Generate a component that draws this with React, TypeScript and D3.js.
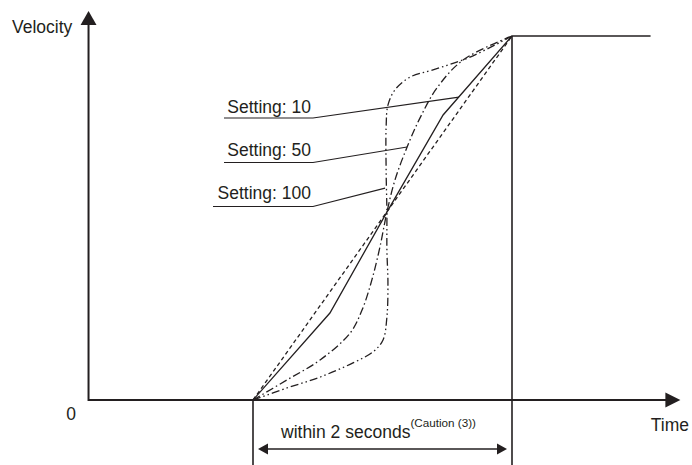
import React from 'react';
import * as d3 from 'd3';

// time in seconds (ramp starts at 0, ends at 2), velocity normalized 0..1
const rampTimes = [0, 2];
const plateauEndTime = 3.07;
const timeAxisExtent = [-1.27, 3.3];
const velocityTop = 1;

const straightSeries: [number, number][] = [[0, 0], [2, 1]];
const setting10Series: [number, number][] = [[0, 0], [0.594, 0.239], [1.034, 0.516], [1.468, 0.783], [2, 1]];
const setting50Series: [number, number][] = [
  [0, 0], [0.262, 0.055], [0.518, 0.11], [0.75, 0.184], [0.842, 0.247], [0.918, 0.33], [0.98, 0.42],
  [1.034, 0.516], [1.096, 0.604], [1.19, 0.695], [1.29, 0.775], [1.42, 0.857], [1.622, 0.934], [2, 1],
];
const setting100Series: [number, number][] = [
  [0, 0], [0.262, 0.033], [0.518, 0.063], [0.772, 0.102], [0.926, 0.132], [1.004, 0.165], [1.034, 0.228],
  [1.042, 0.321], [1.034, 0.412], [1.034, 0.516], [1.028, 0.632], [1.028, 0.75], [1.042, 0.81],
  [1.096, 0.852], [1.212, 0.887], [1.39, 0.907], [1.676, 0.942], [2, 1],
];

const labelTexts = ['Setting: 10', 'Setting: 50', 'Setting: 100'];
const labelTargets: [number, number][] = [[1.59, 0.832], [1.19, 0.695], [1.02, 0.582]];

const axisLabels = { y: 'Velocity', x: 'Time', origin: '0' };
const durationText = 'within 2 seconds';
const durationNote = '(Caution (3))';

const INK = '#231f20';
const FONT = 'Arial, "Liberation Sans", Helvetica, sans-serif';

export default function App() {
  const x = d3.scaleLinear().domain(rampTimes).range([253, 512]);
  const y = d3.scaleLinear().domain([0, velocityTop]).range([400, 36]);

  const x0 = x(timeAxisExtent[0]);
  const x1 = x(timeAxisExtent[1]);
  const y0 = y(0);
  const yTop = 11;

  const linear = d3.line<[number, number]>().x(d => x(d[0])).y(d => y(d[1])).curve(d3.curveLinear);
  const smooth = d3.line<[number, number]>().x(d => x(d[0])).y(d => y(d[1])).curve(d3.curveCatmullRom.alpha(0.5));

  const labelBaselines = [112.5, 155.5, 199];
  const underlineYs = [118, 162.5, 206.5];
  const underlineStarts = [224, 224, 213];
  const underlineEnd = 313;

  const xs = x(rampTimes[0]);
  const xe = x(rampTimes[1]);
  const arrowY = 449;

  return (
    <svg width={692} height={465} style={{ position: 'absolute', left: 0, top: 0, background: '#fff' }}
      fontFamily={FONT}>
      <rect width={692} height={465} fill="#fff" />
      {/* axes */}
      <line x1={x0} y1={y0} x2={x1 - 12} y2={y0} stroke={INK} strokeWidth={2} />
      <path d={`M${x1},${y0} L${x1 - 15},${y0 - 7.5} L${x1 - 15},${y0 + 7.5} Z`} fill={INK} />
      <line x1={x0} y1={y0 + 1} x2={x0} y2={yTop + 12} stroke={INK} strokeWidth={2} />
      <path d={`M${x0},${yTop} L${x0 - 8},${yTop + 14} L${x0 + 8},${yTop + 14} Z`} fill={INK} />

      {/* vertical guides and plateau */}
      <line x1={xs} y1={y0} x2={xs} y2={465} stroke={INK} strokeWidth={1.6} />
      <line x1={xe} y1={y(velocityTop)} x2={xe} y2={465} stroke={INK} strokeWidth={1.6} />
      <line x1={xe} y1={y(velocityTop)} x2={x(plateauEndTime)} y2={y(velocityTop)} stroke={INK} strokeWidth={1.6} />

      {/* curves */}
      <path d={linear(straightSeries) || ''} fill="none" stroke={INK} strokeWidth={1.3} strokeDasharray="4 3" />
      <path d={linear(setting10Series) || ''} fill="none" stroke={INK} strokeWidth={1.3} />
      <path d={smooth(setting50Series) || ''} fill="none" stroke={INK} strokeWidth={1.3} strokeDasharray="8 3 1.5 3" />
      <path d={smooth(setting100Series) || ''} fill="none" stroke={INK} strokeWidth={1.3} strokeDasharray="8 3 1.5 3 1.5 3" />

      {/* labels with leaders */}
      {labelTexts.map((t, i) => (
        <g key={t}>
          <text x={311} y={labelBaselines[i]} textAnchor="end" fontSize={17.5} fill={INK}>{t}</text>
          <polyline
            points={`${underlineStarts[i]},${underlineYs[i]} ${underlineEnd},${underlineYs[i]} ${x(labelTargets[i][0])},${y(labelTargets[i][1])}`}
            fill="none" stroke={INK} strokeWidth={1.1} />
        </g>
      ))}

      {/* axis labels */}
      <text x={12} y={32.5} fontSize={17.5} fill={INK}>{axisLabels.y}</text>
      <text x={689} y={431} textAnchor="end" fontSize={17.5} fill={INK}>{axisLabels.x}</text>
      <text x={71} y={420} textAnchor="middle" fontSize={17.5} fill={INK}>{axisLabels.origin}</text>

      {/* duration arrow */}
      <line x1={xs + 12} y1={arrowY} x2={xe - 12} y2={arrowY} stroke={INK} strokeWidth={1.4} />
      <path d={`M${xs + 5},${arrowY} L${xs + 15},${arrowY - 5.5} L${xs + 15},${arrowY + 5.5} Z`} fill={INK} />
      <path d={`M${xe - 5},${arrowY} L${xe - 15},${arrowY - 5.5} L${xe - 15},${arrowY + 5.5} Z`} fill={INK} />
      <text x={281} y={438} fontSize={17.5} fill={INK}>
        {durationText}
        <tspan fontSize={11.7} dy={-11}>{durationNote}</tspan>
      </text>
    </svg>
  );
}
